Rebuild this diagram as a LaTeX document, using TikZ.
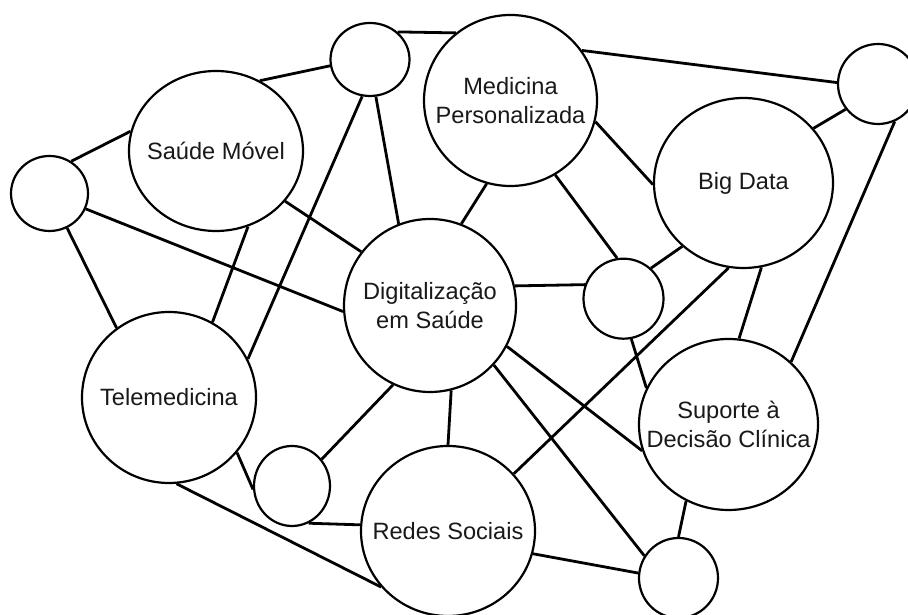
\documentclass[tikz,border=0pt]{standalone}
\usepackage{fontspec}
\setmainfont{Liberation Sans}
\usetikzlibrary{shapes.geometric}
\begin{document}
\begin{tikzpicture}[x=1pt,y=1pt,
  bubble/.style={ellipse,draw=black,line width=2.2pt,inner sep=0pt,fill=white},
  caption/.style={font=\fontsize{23.6}{29.3}\selectfont,align=center,text=black!90},
  link/.style={draw=black,line width=2.8pt}]
\clip (0,0) rectangle (908,615);
\fill[white] (0,0) rectangle (908,615);

% circles with their captions
\node[bubble,minimum width=79pt,minimum height=73pt]  (ts) at (370,555.5) {};
\node[bubble,minimum width=174pt,minimum height=160pt] (sm) at (216,464) {};
\node[caption] (smt) at (sm.center) {Saúde Móvel};
\node[bubble,minimum width=77pt,minimum height=75pt]  (ls) at (49.5,421.5) {};
\node[bubble,minimum width=173pt,minimum height=171pt] (mp) at (510.5,514.5) {};
\node[caption] (mpt) at (mp.center) {Medicina\\Personalizada};
\node[bubble,minimum width=80pt,minimum height=80pt]  (tr) at (878,531) {};
\node[bubble,minimum width=179pt,minimum height=170pt] (bd) at (743.5,432) {};
\node[caption] (bdt) at (bd.center) {Big Data};
\node[bubble,minimum width=172pt,minimum height=173pt] (ds) at (430,309.5) {};
\node[caption] (dst) at (ds.center) {Digitalização\\em Saúde};
\node[bubble,minimum width=80pt,minimum height=80pt]  (ms) at (623.5,316.3) {};
\node[bubble,minimum width=174pt,minimum height=171pt] (tm) at (169,217.5) {};
\node[caption] (tmt) at (tm.center) {Telemedicina};
\node[bubble,minimum width=179pt,minimum height=171pt] (sd) at (728.5,190.5) {};
\node[caption] (sdt) at (sd.center) {Suporte à\\Decisão Clínica};
\node[bubble,minimum width=76pt,minimum height=80pt]  (lw) at (292,129) {};
\node[bubble,minimum width=174pt,minimum height=170pt] (rs) at (448,84) {};
\node[caption] (rst) at (rs.center) {Redes Sociais};
\node[bubble,minimum width=79pt,minimum height=80pt]  (br) at (678.5,37) {};

% connectors between circle borders
\path[link]
  (ts.189)   -- (sm.58.2)
  (ts.45.5)  -- (mp.129)
  (ts.258.3) -- (tm.26.6)
  (ts.279.1) -- (ds.111.8)
  (ls.56.1)  -- (sm.167.5)
  (ls.337)   -- (ds.184.3)
  (ls.297.9) -- (tm.127.8)
  (sm.324.8) -- (ds.142.2)
  (sm.293.8) -- (tm.60.3)
  (mp.35.3)  -- (tr.178.6)
  (mp.346)   -- (bd.181.3)
  (mp.254.5) -- (ds.69)
  (mp.301.8) -- (ms.99)
  (bd.38)    -- (tr.218.2)
  (tr.294.7) -- (sd.45.5)
  (bd.226.1) -- (ms.48.4)
  (bd.282.8) -- (sd.83.7)
  (bd.260.2) -- (rs.41.3)
  (ds.13.9)  -- (ms.160.5)
  (ms.281.9) -- (sd.156.4)
  (ds.332.6) -- (sd.197.6)
  (ds.317.1) -- (br.147.5)
  (ds.245.9) -- (lw.42.4)
  (ds.284.3) -- (rs.90.7)
  (tm.321.8) -- (lw.185.9)
  (tm.275.9) -- (rs.220.2)
  (lw.294.8) -- (rs.176.1)
  (rs.345.8) -- (br.173.1)
  (sd.241.6) -- (br.90);
\end{tikzpicture}
\end{document}
